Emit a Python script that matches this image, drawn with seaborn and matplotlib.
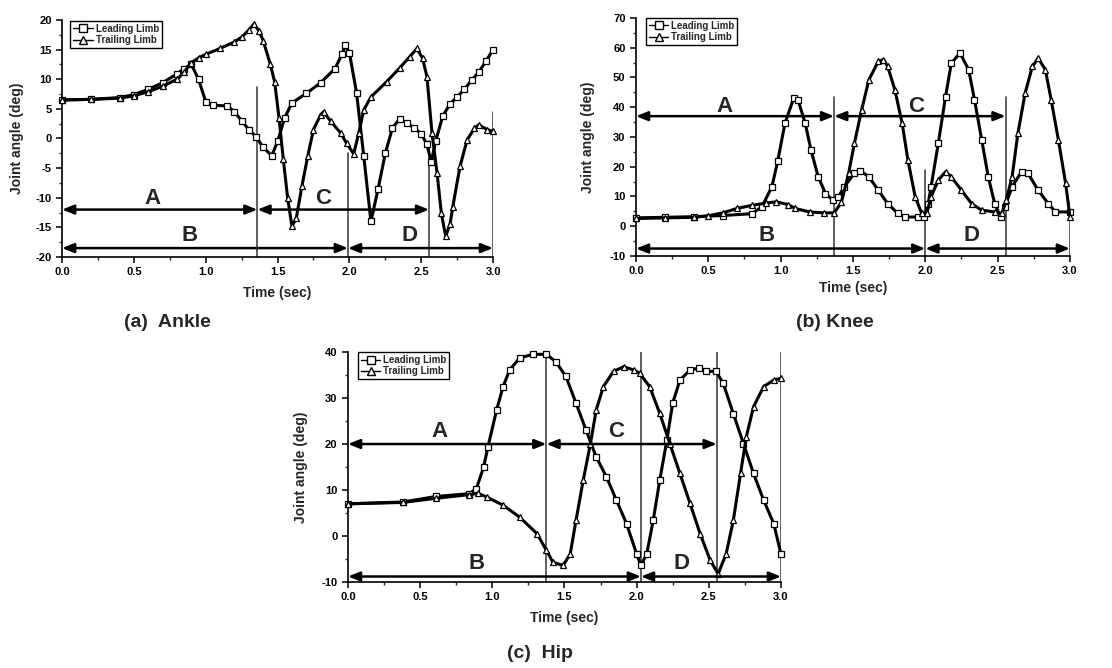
import numpy as np
import pandas as pd
import matplotlib
matplotlib.use("Agg")
import matplotlib.pyplot as plt
from matplotlib.lines import Line2D
from matplotlib.ticker import MultipleLocator, FormatStrFormatter
import seaborn as sns

# ---- data ----
ankle_lead_t = [0.00, 0.20, 0.40, 0.50, 0.60, 0.70, 0.80, 0.85, 0.90, 0.95,
                1.00, 1.05, 1.15, 1.20, 1.25, 1.30, 1.35, 1.40, 1.46, 1.50,
                1.55, 1.60, 1.70, 1.80, 1.90, 1.95, 1.97, 2.00, 2.05, 2.10,
                2.15, 2.20, 2.25, 2.30, 2.35, 2.40, 2.45, 2.50, 2.54, 2.57,
                2.60, 2.65, 2.70, 2.75, 2.80, 2.85, 2.90, 2.95, 3.00]
ankle_lead_v = [6.5, 6.6, 6.9, 7.4, 8.3, 9.4, 10.9, 11.8, 12.5, 10.0,
                6.2, 5.6, 5.5, 4.5, 3.0, 1.5, 0.3, -1.5, -2.9, -0.5,
                3.5, 6.0, 7.6, 9.4, 11.8, 14.3, 15.7, 14.5, 7.7, -3.0,
                -14.0, -8.5, -2.5, 1.8, 3.3, 2.6, 1.8, 0.8, -1.0, -4.0,
                -0.5, 3.8, 5.8, 7.0, 8.3, 9.8, 11.2, 13.0, 15.0]
ankle_trail_t = [0.00, 0.20, 0.40, 0.50, 0.60, 0.70, 0.80, 0.85, 0.90, 0.95,
                 1.00, 1.10, 1.20, 1.25, 1.30, 1.335, 1.37, 1.40, 1.45, 1.48,
                 1.51, 1.54, 1.57, 1.60, 1.63, 1.67, 1.71, 1.75, 1.80, 1.82,
                 1.87, 1.94, 1.98, 2.03, 2.065, 2.10, 2.15, 2.26, 2.35, 2.42,
                 2.47, 2.51, 2.54, 2.575, 2.61, 2.64, 2.67, 2.70, 2.72, 2.77,
                 2.82, 2.87, 2.90, 2.96, 3.00]
ankle_trail_v = [6.5, 6.6, 6.8, 7.2, 7.9, 8.8, 10.0, 11.2, 12.8, 13.6,
                 14.2, 15.2, 16.3, 17.1, 18.3, 19.3, 18.2, 16.5, 12.5, 9.5,
                 3.5, -3.5, -10.0, -14.8, -13.5, -8.0, -3.0, 1.5, 4.0, 4.5,
                 2.9, 0.9, -0.8, -2.6, 0.9, 4.8, 7.0, 9.6, 11.9, 13.8,
                 15.2, 13.5, 10.4, 0.9, -5.8, -12.6, -16.5, -14.5, -11.5, -4.7,
                 -0.2, 1.7, 2.3, 1.5, 1.2]

knee_lead_t = [0.00, 0.20, 0.40, 0.60, 0.80, 0.87, 0.94, 0.98, 1.03, 1.09,
               1.12, 1.17, 1.21, 1.26, 1.31, 1.36, 1.40, 1.44, 1.51, 1.55,
               1.61, 1.675, 1.74, 1.81, 1.86, 1.95, 1.99, 2.02, 2.04, 2.09,
               2.14, 2.18, 2.24, 2.30, 2.34, 2.39, 2.435, 2.48, 2.52, 2.55,
               2.60, 2.665, 2.71, 2.78, 2.85, 2.90, 3.00]
knee_lead_v = [2.8, 3.0, 3.2, 3.6, 4.2, 6.5, 13.3, 22.0, 34.6, 43.0,
               42.5, 34.6, 25.6, 16.6, 11.0, 8.8, 9.9, 13.3, 17.8, 18.7,
               16.6, 12.1, 7.6, 4.3, 3.1, 3.1, 3.1, 7.6, 13.3, 27.9,
               43.6, 54.8, 58.2, 52.6, 42.5, 29.0, 16.6, 7.6, 3.1, 6.5,
               13.3, 18.3, 17.8, 12.1, 7.6, 4.8, 4.8]
knee_trail_t = [0.00, 0.20, 0.40, 0.50, 0.60, 0.70, 0.80, 0.90, 0.97, 1.05,
                1.10, 1.20, 1.30, 1.37, 1.42, 1.47, 1.51, 1.56, 1.61, 1.675,
                1.71, 1.74, 1.79, 1.84, 1.88, 1.93, 1.975, 2.01, 2.04, 2.09,
                2.14, 2.18, 2.25, 2.32, 2.39, 2.48, 2.53, 2.56, 2.60, 2.64,
                2.69, 2.74, 2.78, 2.83, 2.87, 2.92, 2.97, 3.00]
knee_trail_v = [2.6, 2.8, 3.0, 3.5, 4.5, 6.0, 7.0, 7.8, 8.2, 7.3,
                6.0, 4.8, 4.5, 4.5, 8.0, 17.8, 27.9, 39.1, 49.2, 55.4,
                56.0, 53.7, 45.8, 34.6, 22.2, 9.9, 4.3, 4.3, 9.9, 15.5,
                18.3, 16.6, 12.1, 7.6, 5.4, 4.8, 4.3, 8.8, 16.6, 31.2,
                44.7, 53.7, 56.5, 52.6, 42.5, 29.0, 14.4, 3.1]

hip_lead_t = [0.00, 0.38, 0.61, 0.84, 0.89, 0.94, 0.97, 1.03, 1.075, 1.12,
              1.19, 1.28, 1.375, 1.44, 1.51, 1.58, 1.65, 1.72, 1.79, 1.86,
              1.93, 2.00, 2.03, 2.07, 2.115, 2.16, 2.21, 2.25, 2.30, 2.37,
              2.43, 2.48, 2.55, 2.60, 2.67, 2.74, 2.81, 2.88, 2.95, 3.00]
hip_lead_v = [7.0, 7.4, 8.6, 9.2, 10.3, 15.0, 19.4, 27.4, 32.5, 36.1,
              38.7, 39.5, 39.5, 37.9, 34.7, 28.9, 23.0, 17.2, 12.9, 7.8,
              2.7, -3.9, -6.4, -3.9, 3.4, 12.1, 20.9, 28.9, 33.9, 36.1,
              36.5, 35.8, 35.8, 33.2, 26.6, 20.1, 13.6, 7.8, 2.7, -3.9]
hip_trail_t = [0.00, 0.38, 0.61, 0.84, 0.90, 0.96, 1.075, 1.19, 1.31, 1.375,
               1.42, 1.49, 1.54, 1.58, 1.63, 1.68, 1.72, 1.77, 1.84, 1.91,
               1.98, 2.02, 2.09, 2.16, 2.23, 2.30, 2.37, 2.44, 2.51, 2.565,
               2.62, 2.67, 2.72, 2.76, 2.81, 2.88, 2.95, 3.00]
hip_trail_v = [7.0, 7.3, 8.2, 9.0, 9.3, 8.5, 6.7, 4.1, 0.5, -3.1,
               -5.7, -6.4, -3.9, 3.4, 12.1, 20.1, 27.4, 32.5, 35.8, 36.8,
               36.1, 35.4, 32.5, 26.7, 20.1, 13.6, 7.1, 0.5, -5.3, -8.2,
               -3.9, 3.4, 13.6, 21.6, 28.1, 32.5, 33.9, 34.3]

# phase boundaries (s): end of A / start of C, end of B / start of D, end of C, end of D
ankle_phases = [1.36, 1.99, 2.555, 3.0]
knee_phases = [1.37, 2.00, 2.555, 3.0]
hip_phases = [1.375, 2.03, 2.555, 3.0]

legend_labels = ["Leading Limb", "Trailing Limb"]

# ---- style ----
sns.set_style("ticks")
plt.rcParams["font.family"] = ["Liberation Sans", "DejaVu Sans"]
plt.rcParams["font.weight"] = "bold"
plt.rcParams["axes.unicode_minus"] = False

fig = plt.figure(figsize=(11.12, 6.68), dpi=100)

panels = [
    dict(rect=[0.0558, 0.6153, 0.3876, 0.3548],
         lead=(ankle_lead_t, ankle_lead_v), trail=(ankle_trail_t, ankle_trail_v),
         phases=ankle_phases, ylim=(-20, 20), major=5, minor=2.5,
         vtops=[8.7, -2.5, -0.5, 4.4], y_ac=-12.0, y_bd=-18.5,
         lab_ac=-10.2, lab_bd=-16.3, lab_x=[0.63, 1.82, 0.89, 2.42],
         leg=(0.019, 0.996), ylab_x=-0.088, xlab_y=-0.122),
    dict(rect=[0.5719, 0.6168, 0.3903, 0.3563],
         lead=(knee_lead_t, knee_lead_v), trail=(knee_trail_t, knee_trail_v),
         phases=knee_phases, ylim=(-10, 70), major=10, minor=5,
         vtops=[43.6, 18.9, 43.4, 8.0], y_ac=37.0, y_bd=-7.5,
         lab_ac=40.2, lab_bd=-3.0, lab_x=[0.615, 1.94, 0.90, 2.32],
         leg=(0.023, 1.0), ylab_x=-0.094, xlab_y=-0.105),
    dict(rect=[0.3129, 0.1287, 0.3894, 0.3443],
         lead=(hip_lead_t, hip_lead_v), trail=(hip_trail_t, hip_trail_v),
         phases=hip_phases, ylim=(-10, 40), major=10, minor=5,
         vtops=[40, 40, 40, 40], y_ac=20.0, y_bd=-8.8,
         lab_ac=22.7, lab_bd=-5.9, lab_x=[0.635, 1.86, 0.89, 2.31],
         leg=(0.023, 1.0), ylab_x=-0.092, xlab_y=-0.126),
]

arrow_kw = dict(arrowstyle="<|-|>,head_length=0.5,head_width=0.2", color="black",
                lw=1.8, mutation_scale=14, shrinkA=0, shrinkB=0)

for p in panels:
    ax = fig.add_axes(p["rect"])
    ymin = p["ylim"][0]

    # phase marker lines
    for t, top in zip(p["phases"], p["vtops"]):
        ax.plot([t, t], [ymin, top], color="#444444", lw=1.2, zorder=1)

    sns.lineplot(x=p["lead"][0], y=p["lead"][1], ax=ax, color="black", lw=2.2,
                 marker="s", markersize=4, markerfacecolor="white",
                 markeredgecolor="black", markeredgewidth=0.9,
                 estimator=None, sort=False, legend=False, zorder=3, clip_on=False)
    sns.lineplot(x=p["trail"][0], y=p["trail"][1], ax=ax, color="black", lw=2.2,
                 marker="^", markersize=4.5, markerfacecolor="white",
                 markeredgecolor="black", markeredgewidth=0.9,
                 estimator=None, sort=False, legend=False, zorder=3, clip_on=False)

    a_end, b_end, c_end, d_end = p["phases"]
    for x0, x1, y in [(0, a_end, p["y_ac"]), (a_end, c_end, p["y_ac"]),
                      (0, b_end, p["y_bd"]), (b_end, d_end, p["y_bd"])]:
        ax.annotate("", xy=(x0, y), xytext=(x1, y), arrowprops=arrow_kw,
                    annotation_clip=False, zorder=4)

    for letter, x, y in zip("ACBD", p["lab_x"],
                            [p["lab_ac"], p["lab_ac"], p["lab_bd"], p["lab_bd"]]):
        ax.text(x, y, letter, fontsize=16, fontweight="bold",
                ha="center", va="center", zorder=5)

    ax.set_xlim(0, 3.0)
    ax.set_ylim(*p["ylim"])
    ax.xaxis.set_major_locator(MultipleLocator(0.5))
    ax.xaxis.set_minor_locator(MultipleLocator(0.25))
    ax.yaxis.set_major_locator(MultipleLocator(p["major"]))
    ax.yaxis.set_minor_locator(MultipleLocator(p["minor"]))
    ax.xaxis.set_major_formatter(FormatStrFormatter("%.1f"))
    ax.tick_params(which="major", direction="out", length=4, width=1.1,
                   labelsize=8, colors="black")
    ax.tick_params(which="minor", direction="out", length=2.5, width=1.0)
    for lbl in ax.get_xticklabels() + ax.get_yticklabels():
        lbl.set_fontweight("bold")

    sns.despine(ax=ax)
    for s in ["left", "bottom"]:
        ax.spines[s].set_linewidth(1.2)
        ax.spines[s].set_color("black")

    ax.set_xlabel("Time (sec)", fontsize=10, fontweight="bold")
    ax.set_ylabel("Joint angle (deg)", fontsize=10, fontweight="bold")
    ax.xaxis.set_label_coords(0.5, p["xlab_y"])
    ax.yaxis.set_label_coords(p["ylab_x"], 0.5)

    handles = [Line2D([], [], color="black", lw=1, marker="s", markersize=6,
                      markerfacecolor="white", markeredgecolor="black"),
               Line2D([], [], color="black", lw=1, marker="^", markersize=6,
                      markerfacecolor="white", markeredgecolor="black")]
    leg = ax.legend(handles, legend_labels, loc="upper left",
                    bbox_to_anchor=p["leg"], borderaxespad=0, fancybox=False,
                    framealpha=1, edgecolor="black",
                    prop={"weight": "bold", "size": 7}, handlelength=2.0,
                    handletextpad=0.3, borderpad=0.3, labelspacing=0.15)
    leg.get_frame().set_linewidth(1.0)
    leg.set_zorder(6)

fig.text(167 / 1112, 1 - 323 / 668, "(a)  Ankle", ha="center", va="center",
         fontsize=14, fontweight="bold")
fig.text(835 / 1112, 1 - 323 / 668, "(b) Knee", ha="center", va="center",
         fontsize=14, fontweight="bold")
fig.text(540 / 1112, 1 - 653 / 668, "(c)  Hip", ha="center", va="center",
         fontsize=14, fontweight="bold")

fig.savefig("out.png", dpi=100, facecolor="white")
